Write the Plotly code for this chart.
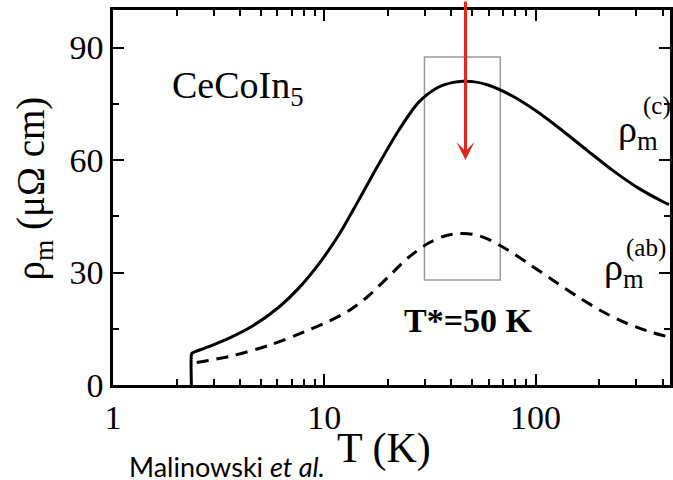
import numpy as np
import plotly.graph_objects as go

# ---- data ----
T_c = [2.35, 2.35, 2.37, 2.43, 2.86, 3.55, 4.66, 6.11, 7.59, 9.43, 11.71, 14.55, 18.07,
       22.45, 27.88, 34.63, 40.75, 45.4, 50.6, 59.6, 78.1, 102.4, 134.3, 176.1, 230.9,
       302.8, 397.2, 428.5]
rho_c = [0, 8.0, 8.5, 8.8, 10.3, 12.5, 16.0, 20.8, 25.9, 32.3, 40.0, 49.3, 58.8,
         67.8, 75.3, 79.4, 80.7, 81.0, 80.9, 80.0, 77.0, 72.8, 67.8, 62.5, 57.3,
         52.7, 49.0, 48.1]

T_ab = [2.49, 3.55, 5.49, 8.46, 10.51, 13.06, 16.22, 20.15, 25.02, 31.08, 36.57, 43.03,
        50.6, 59.6, 74.0, 91.9, 120.5, 158, 207.2, 271.6, 356.2, 428.5]
rho_ab = [6.0, 7.6, 10.6, 14.7, 17.0, 19.8, 23.8, 28.9, 34.0, 37.8, 39.6, 40.4,
          40.2, 38.9, 36.0, 32.5, 28.0, 23.6, 19.6, 16.4, 14.0, 12.8]

x_tickvals = [1, 10, 100]
x_ticktext = ["1", "10", "100"]
x_minor_ticks = [2, 3, 4, 5, 6, 7, 8, 9, 20, 30, 40, 50, 60, 70, 80, 90, 200, 300, 400]
y_tickvals = [0, 30, 60, 90]
y_minor_ticks = [15, 45, 75]

box_T = [29.8, 68.1]      # T* window
box_rho = [28.0, 87.5]
T_star = 46.6
arrow_tip_rho = 60

# ---- layout helpers (pixel -> paper) ----
L, R, TOP, BOT = 113, 673, 10, 385
def px(p):
    return (p - L) / (R - L)
def py(p):
    return (BOT - p) / (BOT - TOP)

SERIF = "Liberation Serif"
X_RANGE = [0, np.log10(433)]
Y_RANGE = [0, 100]

fig = go.Figure()
fig.add_trace(go.Scatter(x=T_c, y=rho_c, mode="lines",
                         line=dict(color="black", width=3, shape="spline", smoothing=0.8),
                         showlegend=False))
fig.add_trace(go.Scatter(x=T_ab, y=rho_ab, mode="lines",
                         line=dict(color="black", width=3, dash="12px,8px", shape="spline", smoothing=0.8),
                         showlegend=False))
# empty trace that activates the overlay axes carrying the minor ticks
fig.add_trace(go.Scatter(x=[None], y=[None], xaxis="x2", yaxis="y2", mode="lines",
                         showlegend=False, hoverinfo="skip"))

fig.add_shape(type="rect", xref="x", yref="y",
              x0=box_T[0], x1=box_T[1], y0=box_rho[0], y1=box_rho[1],
              line=dict(color="#9a9a9a", width=1.5), layer="below")

anns = []
# red arrow
anns.append(dict(x=np.log10(T_star), y=arrow_tip_rho, xref="x", yref="y",
                 ax=0, ay=-160, axref="pixel", ayref="pixel", text="",
                 showarrow=True, arrowhead=3, arrowsize=1, arrowwidth=3,
                 arrowcolor="#e1261c", standoff=0))
# texts
anns.append(dict(x=px(170), y=py(88), xref="paper", yref="paper", xanchor="left", yanchor="middle",
                 text="CeCoIn<sub>5</sub>", showarrow=False,
                 font=dict(family=SERIF, size=38, color="black")))
anns.append(dict(x=px(470), y=py(320), xref="paper", yref="paper", xanchor="center", yanchor="middle",
                 text="<b>T*=50 K</b>", showarrow=False,
                 font=dict(family=SERIF, size=34, color="black")))
anns.append(dict(x=px(619), y=py(132), xref="paper", yref="paper", xanchor="left", yanchor="middle",
                 text="ρ<sub>m</sub>", showarrow=False,
                 font=dict(family=SERIF, size=38, color="black")))
anns.append(dict(x=px(644), y=py(106), xref="paper", yref="paper", xanchor="left", yanchor="middle",
                 text="(c)", showarrow=False,
                 font=dict(family=SERIF, size=25, color="black")))
anns.append(dict(x=px(605), y=py(270), xref="paper", yref="paper", xanchor="left", yanchor="middle",
                 text="ρ<sub>m</sub>", showarrow=False,
                 font=dict(family=SERIF, size=38, color="black")))
anns.append(dict(x=px(627), y=py(248), xref="paper", yref="paper", xanchor="left", yanchor="middle",
                 text="(ab)", showarrow=False,
                 font=dict(family=SERIF, size=25, color="black")))
# axis titles
anns.append(dict(x=px(33), y=py(188), xref="paper", yref="paper", xanchor="center", yanchor="middle",
                 text="ρ<sub>m</sub> (μΩ cm)", textangle=-90, showarrow=False,
                 font=dict(family=SERIF, size=39, color="black")))
anns.append(dict(x=px(385), y=py(448), xref="paper", yref="paper", xanchor="center", yanchor="middle",
                 text="T (K)", showarrow=False,
                 font=dict(family=SERIF, size=42, color="black")))
anns.append(dict(x=px(127), y=py(466), xref="paper", yref="paper", xanchor="left", yanchor="middle",
                 text="Malinowski <i>et al.</i>", showarrow=False,
                 font=dict(family="Lato", size=27, color="black")))

common = dict(ticks="inside", tickcolor="black", showline=True, linecolor="black",
              linewidth=2.5, mirror="ticks", showgrid=False, zeroline=False)

fig.update_layout(
    width=673, height=480,
    margin=dict(l=L, r=673 - R, t=TOP, b=480 - BOT, pad=0),
    paper_bgcolor="white", plot_bgcolor="white",
    font=dict(family=SERIF, size=34, color="black"),
    annotations=anns,
    xaxis=dict(type="log", range=X_RANGE, tickmode="array", tickvals=x_tickvals, ticktext=x_ticktext,
               ticklen=11, tickwidth=2, tickfont=dict(family=SERIF, size=34, color="black"), **common),
    yaxis=dict(range=Y_RANGE, tickmode="array", tickvals=y_tickvals,
               ticklen=11, tickwidth=2, tickfont=dict(family=SERIF, size=34, color="black"), **common),
    xaxis2=dict(type="log", range=X_RANGE, overlaying="x", anchor="y2", side="bottom",
                tickmode="array", tickvals=x_minor_ticks, showticklabels=False,
                ticklen=6, tickwidth=2, **common),
    yaxis2=dict(range=Y_RANGE, overlaying="y", anchor="x2", side="left",
                tickmode="array", tickvals=y_minor_ticks, showticklabels=False,
                ticklen=6, tickwidth=2, **common),
)

fig.write_html("out.html")
